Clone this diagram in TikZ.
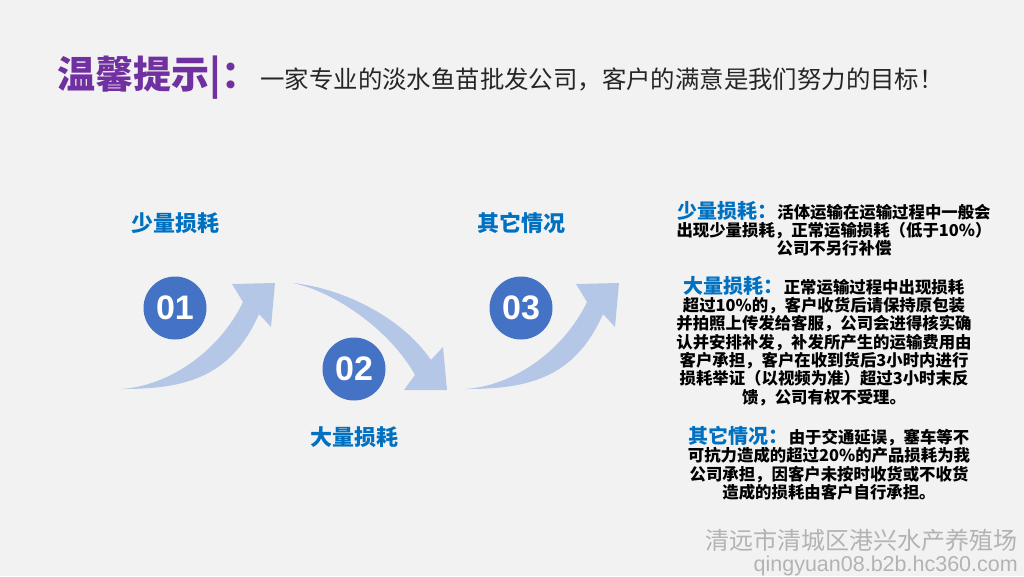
\documentclass[tikz,border=0pt]{standalone}
\usepackage{fontspec}
\setmainfont{Noto Sans CJK SC}
\newfontfamily\numfont{Liberation Sans}
\usetikzlibrary{positioning}

\definecolor{bgray}{HTML}{F2F2F2}
\definecolor{tipviolet}{HTML}{7030A0}
\definecolor{headblue}{HTML}{0070C0}
\definecolor{dotblue}{HTML}{4472C4}
\definecolor{arrowblue}{HTML}{B4C7E7}
\definecolor{markgray}{HTML}{B3B3B3}

\tikzset{every node/.style={inner sep=0pt}}
\tikzstyle{num}=[circle,fill=dotblue,minimum size=63pt,text=white,font=\numfont\bfseries\fontsize{34}{34}\selectfont]
\tikzstyle{stage}=[text=headblue,font=\bfseries\fontsize{22}{22}\selectfont]
\tikzstyle{note}=[align=center,anchor=north,font=\bfseries\fontsize{16.4}{18.3}\selectfont]
\tikzstyle{flow}=[fill=arrowblue]
\newcommand{\notehead}[1]{{\color{headblue}\fontsize{20}{18.3}\selectfont #1}}

\begin{document}
\begin{tikzpicture}[x=1pt,y=-1pt]
\fill[bgray] (0,0) rectangle (1024,576);
\useasboundingbox (0,0) rectangle (1024,576);

\node [anchor=base west,text=tipviolet,font=\bfseries\fontsize{38}{38}\selectfont] (title) at (57,88) {温馨提示|：};
\node [anchor=base west,xshift=1pt,text=black!85,font=\fontsize{24.4}{24.4}\selectfont] (motto) at (title.base east) {一家专业的淡水鱼苗批发公司，客户的满意是我们努力的目标！};

\fill[flow] (121,389) .. controls (170,386) and (220,350) .. (243,302) -- (232,284) -- (275,283) -- (271,327) -- (259,314) .. controls (230,380) and (181,389) .. cycle;
\fill[flow] (293,283) .. controls (340,288) and (400,315) .. (431,360) -- (443,347) -- (447,390) -- (404,390) -- (415,375) .. controls (390,330) and (335,292) .. cycle;
\fill[flow,xshift=344pt] (121,389) .. controls (170,386) and (220,350) .. (243,302) -- (232,284) -- (275,283) -- (271,327) -- (259,314) .. controls (230,380) and (181,389) .. cycle;

\node [num] (n1) at (175,308) {01};
\node [num] (n2) at (354,369) {02};
\node [num] (n3) at (521,308) {03};

\node [stage,above=42pt of n1] (small) {少量损耗};
\node [stage,below=26pt of n2] (large) {大量损耗};
\node [stage,above=42pt of n3] (other) {其它情况};

\node [note] (smallnote) at (834,201) {\notehead{少量损耗：}活体运输在运输过程中一般会\\出现少量损耗，正常运输损耗（低于10\%）\\公司不另行补偿};
\node [note] (largenote) at (824,276) {\notehead{大量损耗：}正常运输过程中出现损耗\\超过10\%的，客户收货后请保持原包装\\并拍照上传发给客服，公司会进得核实确\\认并安排补发，补发所产生的运输费用由\\客户承担，客户在收到货后3小时内进行\\损耗举证（以视频为准）超过3小时末反\\馈，公司有权不受理。};
\node [note] (othernote) at (829,426) {\notehead{其它情况：}由于交通延误，塞车等不\\可抗力造成的超过20\%的产品损耗为我\\公司承担，因客户未按时收货或不收货\\造成的损耗由客户自行承担。};

\node [anchor=base east,text=markgray,font=\fontsize{24}{24}\selectfont] (farm) at (1018,549) {清远市清城区港兴水产养殖场};
\node [anchor=base east,text=markgray,font=\numfont\fontsize{21.5}{21.5}\selectfont] (site) at (1018,571) {qingyuan08.b2b.hc360.com};
\end{tikzpicture}
\end{document}
